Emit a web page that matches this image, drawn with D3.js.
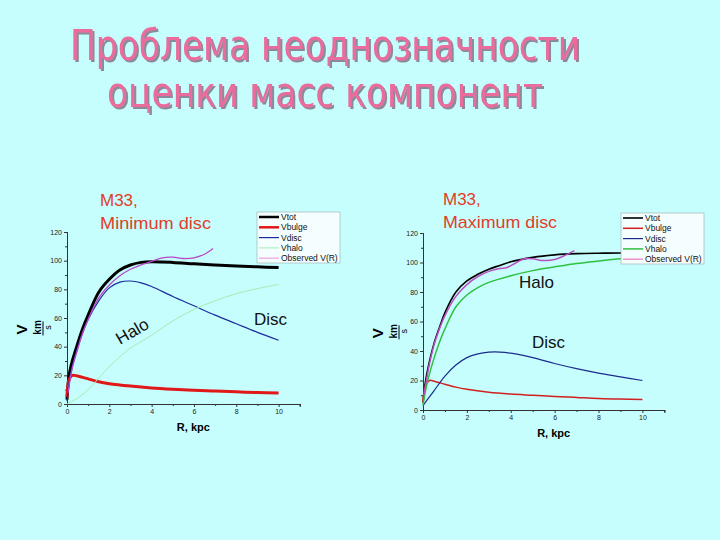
<!DOCTYPE html>
<html>
<head>
<meta charset="utf-8">
<script src="https://cdn.jsdelivr.net/npm/d3@7"></script>
<style>
  body { margin: 0; background: #c6fefe; }
  svg { display: block; }
</style>
</head>
<body>
<svg id="chart" width="720" height="540"></svg>
<script>
// ---- data ----
const titleLines = ["Проблема неоднозначности", "оценки масс компонент"]
const legendLabels = ["Vtot", "Vbulge", "Vdisc", "Vhalo", "Observed V(R)"]
const xTicks = [0, 2, 4, 6, 8, 10]
const yTicks = [0, 20, 40, 60, 80, 100, 120]

// Minimum disc
const minTotR = [0, 0.1, 0.25, 0.5, 0.75, 1, 1.5, 2, 2.5, 3, 3.5, 4, 5, 6, 7, 8, 9, 10]
const minTotV = [3, 20, 30, 42, 53, 62, 78, 87, 93.5, 97, 98.8, 99.3, 98.8, 97.8, 97, 96.3, 95.7, 95.2]
const minBulgeR = [0, 0.1, 0.25, 0.5, 1, 1.5, 2, 3, 4, 5, 6, 7, 8, 9, 10]
const minBulgeV = [5, 17, 20, 19.5, 17.5, 15.5, 14.2, 12.5, 11.2, 10.3, 9.6, 9, 8.5, 8, 7.7]
const minDiscR = [0, 0.1, 0.25, 0.5, 0.75, 1, 1.5, 2, 2.5, 3, 3.5, 4, 5, 6, 7, 8, 9, 10]
const minDiscV = [2, 15, 26, 39, 50, 59, 72, 81, 85, 85.8, 84.5, 82, 75, 68.5, 62, 56, 50, 44.5]
const minHaloR = [0, 0.5, 1, 1.5, 2, 2.5, 3, 4, 5, 6, 7, 8, 9, 10]
const minHaloV = [0, 4, 10, 18, 26, 33, 39, 48, 58, 66, 72, 77, 80.5, 83.5]
const minObsR = [0.05, 0.25, 0.5, 0.75, 1, 1.5, 2, 2.5, 3, 3.5, 4, 4.5, 5, 5.5, 6, 6.5, 6.9]
const minObsV = [8, 25, 38, 50, 59, 74, 83, 89.5, 94, 97, 99.5, 102, 102.5, 101.5, 102, 104.5, 108.5]

// Maximum disc
const maxTotR = [0, 0.1, 0.25, 0.5, 0.75, 1, 1.5, 2, 2.5, 3, 3.5, 4, 5, 6, 7, 8, 9, 10]
const maxTotV = [5, 18, 30, 45, 56, 66, 80, 87.5, 92, 95.5, 98, 100.5, 103.5, 105.2, 106, 106.3, 106.4, 106.5]
const maxBulgeR = [0, 0.1, 0.3, 0.5, 1, 1.5, 2, 3, 4, 5, 6, 7, 8, 9, 10]
const maxBulgeV = [5, 16, 20, 19.5, 17.5, 15.5, 14, 12, 10.8, 10, 9.2, 8.5, 7.8, 7.4, 7.2]
const maxDiscR = [0, 0.25, 0.5, 1, 1.5, 2, 2.5, 3, 3.5, 4, 5, 6, 7, 8, 9, 10]
const maxDiscV = [3, 8, 13, 23, 30.5, 35.5, 38, 39.2, 39.3, 38.5, 35.5, 31.5, 28, 25, 22.5, 20]
const maxHaloR = [0, 0.1, 0.25, 0.5, 0.75, 1, 1.5, 2, 2.5, 3, 4, 5, 6, 7, 8, 9, 10]
const maxHaloV = [3, 12, 22, 35, 46, 55, 70, 78, 83, 86.5, 91, 94.5, 97, 99.3, 101, 102.5, 103.5]
const maxObsR = [0.05, 0.25, 0.5, 0.75, 1, 1.5, 2, 2.5, 3, 3.5, 3.8, 4.2, 4.6, 5, 5.5, 6, 6.5, 6.9]
const maxObsV = [10, 28, 44, 55, 64, 77, 85, 90.5, 94, 96, 96.5, 99.5, 102.5, 102.5, 101.3, 102, 105, 108]

const zip = (r, v) => r.map((x, i) => [x, v[i]])

const svg = d3.select("#chart")

// grey drop shadow under the title
svg.append("defs").append("filter").attr("id", "shadow")
  .attr("x", "-5%").attr("y", "-20%").attr("width", "110%").attr("height", "140%")
  .append("feDropShadow")
    .attr("dx", 2).attr("dy", 2).attr("stdDeviation", 0.4)
    .attr("flood-color", "#8a8a9a").attr("flood-opacity", 1)

const title = svg.append("g")
  .attr("font-family", "'DejaVu Sans Condensed', 'DejaVu Sans', sans-serif")
  .attr("font-size", 42)
  .attr("filter", "url(#shadow)")
const titlePos = [[70, 60, 510], [107, 107, 436]]
titleLines.forEach((t, i) => {
  const [x, y, w] = titlePos[i]
  title.append("text").text(t)
    .attr("x", x).attr("y", y)
    .attr("textLength", w).attr("lengthAdjust", "spacingAndGlyphs")
    .attr("fill", "#ea6c9c")
})

function drawPanel(p) {
  const x = d3.scaleLinear().domain([0, 11]).range(p.xr)
  const y = d3.scaleLinear().domain([0, 120]).range(p.yr)
  const g = svg.append("g")
    .attr("font-family", "Arial, 'Liberation Sans', sans-serif")

  // axes
  const xAxis = d3.axisBottom(x).tickValues(xTicks).tickSize(3).tickPadding(2)
  const xMinor = d3.axisBottom(x).tickValues(d3.range(1, 12, 2)).tickSize(2).tickFormat("")
  const yAxis = d3.axisLeft(y).tickValues(yTicks).tickSize(3).tickPadding(2)
  const yMinor = d3.axisLeft(y).tickValues(d3.range(10, 120, 20)).tickSize(2).tickFormat("")
  ;[xAxis, xMinor].forEach(a => g.append("g")
    .attr("transform", `translate(0,${p.yr[0]})`).call(a))
  ;[yAxis, yMinor].forEach(a => g.append("g")
    .attr("transform", `translate(${p.xr[0]},0)`).call(a))
  g.selectAll(".domain").attr("stroke", "#333")
  g.selectAll(".tick line").attr("stroke", "#333")
  g.selectAll(".tick text").attr("font-size", 7).attr("fill", "#222")

  // axis titles
  g.append("text").text("R, kpc")
    .attr("x", (p.xr[0] + p.xr[1]) / 2 + 10).attr("y", p.yr[0] + 27)
    .attr("text-anchor", "middle").attr("font-size", 11).attr("font-weight", "bold")
  const yl = g.append("g").attr("transform", `translate(${p.xr[0] - 40},${y(52)}) rotate(-90)`)
  yl.append("text").text("V").attr("font-size", 15).attr("font-weight", "bold")
    .attr("text-anchor", "middle")
  yl.append("text").text("km").attr("font-size", 10).attr("font-weight", "bold")
    .attr("x", 2).attr("y", 14).attr("text-anchor", "middle")
  yl.append("line").attr("x1", -6).attr("x2", 8).attr("y1", 16).attr("y2", 16)
    .attr("stroke", "#000").attr("stroke-width", 1)
  yl.append("text").text("s").attr("font-size", 9)
    .attr("x", 2).attr("y", 24).attr("text-anchor", "middle")

  // curves
  const line = d3.line().x(d => x(d[0])).y(d => y(d[1])).curve(d3.curveCatmullRom)
  p.series.forEach(s => {
    g.append("path").datum(s.data).attr("d", line)
      .attr("fill", "none").attr("stroke", s.color).attr("stroke-width", s.width)
      .attr("stroke-linejoin", "round")
  })

  // legend
  const lg = g.append("g").attr("transform", `translate(${p.legend[0]},${p.legend[1]})`)
  lg.append("rect").attr("x", 0).attr("y", 0).attr("width", p.legend[2]).attr("height", 51)
    .attr("fill", "#f4fefe").attr("stroke", "#9aa").attr("stroke-width", 0.6)
  legendLabels.forEach((lab, i) => {
    const yy = 5 + i * 10.3
    lg.append("line").attr("x1", 2).attr("x2", 22).attr("y1", yy).attr("y2", yy)
      .attr("stroke", p.series[i].legendColor || p.series[i].color)
      .attr("stroke-width", Math.min(p.series[i].width, 2.5))
    lg.append("text").text(lab).attr("x", 24).attr("y", yy + 3)
      .attr("font-size", 8.5).attr("fill", "#111")
  })

  // annotations
  const red = g.append("g").attr("fill", "#e33c28").attr("font-size", 17)
  red.append("text").text("M33,").attr("x", p.label[0]).attr("y", p.label[1])
  red.append("text").text(p.labelText).attr("x", p.label[0]).attr("y", p.label[1] + 23)
    .attr("textLength", p.label[2]).attr("lengthAdjust", "spacingAndGlyphs")
  p.notes.forEach(n => {
    g.append("text").text(n.t)
      .attr("transform", `translate(${n.x},${n.y}) rotate(${n.rot || 0})`)
      .attr("font-size", 17).attr("fill", "#111")
  })
}

drawPanel({
  xr: [67, 67 + 21.16 * 11], yr: [404, 232],
  legend: [257, 212, 83],
  label: [100, 206, 111], labelText: "Minimum disc",
  notes: [{ t: "Halo", x: 120, y: 345, rot: -30 }, { t: "Disc", x: 254, y: 325 }],
  series: [
    { data: zip(minTotR, minTotV), color: "#000", width: 3 },
    { data: zip(minBulgeR, minBulgeV), color: "#e01818", width: 3 },
    { data: zip(minDiscR, minDiscV), color: "#1c2c9c", width: 1.2 },
    { data: zip(minHaloR, minHaloV), color: "#a4ecb0", width: 1 },
    { data: zip(minObsR, minObsV), color: "#b848c8", width: 1.3, legendColor: "#f0a8e0" }
  ]
})

drawPanel({
  xr: [423, 423 + 21.94 * 11], yr: [410, 233],
  legend: [621, 213, 83],
  label: [443, 205, 114], labelText: "Maximum disc",
  notes: [{ t: "Halo", x: 519, y: 288 }, { t: "Disc", x: 532, y: 348 }],
  series: [
    { data: zip(maxTotR, maxTotV), color: "#000", width: 1.6 },
    { data: zip(maxBulgeR, maxBulgeV), color: "#d22020", width: 1.5 },
    { data: zip(maxDiscR, maxDiscV), color: "#1c2c8c", width: 1.2 },
    { data: zip(maxHaloR, maxHaloV), color: "#30c040", width: 1.5 },
    { data: zip(maxObsR, maxObsV), color: "#b850c0", width: 1.5, legendColor: "#f090c8" }
  ]
})
</script>
</body>
</html>
